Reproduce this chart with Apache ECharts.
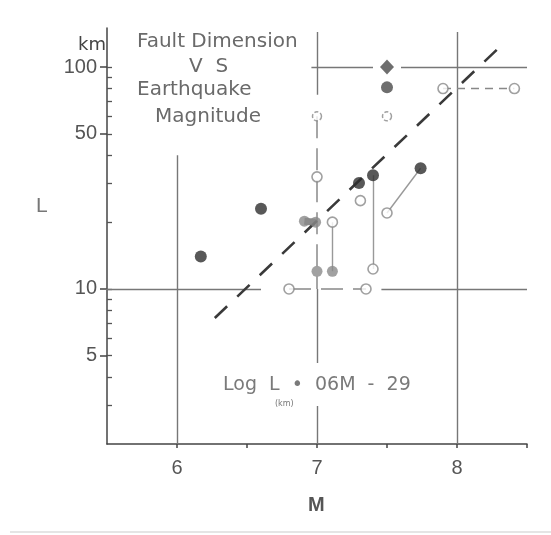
<!DOCTYPE html>
<html><head><meta charset="utf-8">
<script src="https://cdn.jsdelivr.net/npm/echarts@6/dist/echarts.min.js"></script>
<style>html,body{margin:0;padding:0;background:#fff}#c{width:551px;height:535px}</style>
</head><body><div id="c"></div>
<script>
// ---- axis ticks / labels ----
const xLabels = [6, 7, 8];
const xTickValues = [6, 6.5, 7, 7.5, 8, 8.5];
const yLabels = [5, 10, 50, 100];
const yMinorTicks = [3, 4, 5, 6, 7, 8, 9, 10, 20, 30, 40, 50, 60, 70, 80, 90, 100];

// ---- data (M = magnitude, L = fault length km) ----
const darkM = [6.17, 6.60, 7.30, 7.40, 7.74];
const darkL = [14, 23, 30, 32.5, 35];
const diamondM = [7.5];
const diamondL = [100];
const dropM = [7.5];
const dropL = [81];
const greyM = [6.91, 6.99, 7.00, 7.11];
const greyL = [20.2, 20, 12, 12];
const openM = [7.90, 8.41, 7.00, 7.31, 7.50, 7.11, 7.40, 7.35, 6.80];
const openL = [80, 80, 32, 25, 22, 20, 12.3, 10, 10];
const smallOpenM = [7.0, 7.5];
const smallOpenL = [60, 60];
const fitM = [6.27, 8.35];
const fitL = [7.4, 131];

// connectors between related estimates
const solidLinks = [[[7.11, 20], [7.11, 12]], [[7.40, 32.5], [7.40, 12.3]], [[7.74, 35], [7.50, 22]]];
const dashedLinks = [[[7.00, 60], [7.00, 10]], [[6.80, 10], [7.35, 10]]];
const shortDashLinks = [[[7.90, 80], [8.41, 80]]];
const thickLinks = [[[6.91, 20.2], [6.99, 20]]];
// frame (reference) lines
const frameSegments = [
  [[5.46, 10], [6.6, 10]], [[7.46, 10], [8.5, 10]],
  [[6.96, 100], [7.40, 100]], [[7.60, 100], [8.5, 100]],
  [[6, 2], [6, 40]],
  [[7, 2], [7, 2.97]], [[7, 4.64], [7, 10]], [[7, 75], [7, 144]],
  [[8, 2], [8, 144]]
];

const zip = (a, b) => a.map((v, i) => [v, b[i]]);
const toLines = segs => segs.map(s => ({ coords: s }));
const FONT = '"Liberation Sans", Arial, sans-serif';
const DJ = '"DejaVu Sans", sans-serif';

const txt = (x, y, text, font, fill) => ({
  type: 'text', x: x, y: y,
  style: { text: text, font: font, fill: fill, align: 'left', verticalAlign: 'middle' }
});

const chart = echarts.init(document.getElementById('c'), null, { renderer: 'canvas' });
chart.setOption({
  backgroundColor: '#fff',
  animation: false,
  grid: { left: 107, top: 28, width: 420, height: 416 },
  xAxis: [{
    type: 'value', min: 5.5, max: 8.5,
    axisLine: { lineStyle: { color: '#444', width: 1.5 } },
    axisTick: { show: true, customValues: xTickValues, length: 4, lineStyle: { color: '#444', width: 1.5 } },
    axisLabel: { customValues: xLabels, margin: 14, fontSize: 20, color: '#555', fontFamily: FONT },
    splitLine: { show: false }
  }],
  yAxis: [{
    type: 'log', logBase: 10, min: 2, max: 150,
    axisLine: { lineStyle: { color: '#444', width: 1.5 } },
    axisTick: { show: true, customValues: yLabels, length: 7, lineStyle: { color: '#444', width: 1.5 } },
    axisLabel: { customValues: yLabels, margin: 10, fontSize: 20, color: '#555', fontFamily: FONT },
    splitLine: { show: false }
  }, {
    type: 'log', logBase: 10, min: 2, max: 150, position: 'left', offset: 0,
    axisLine: { show: false },
    axisTick: { show: true, inside: true, customValues: yMinorTicks, length: 5, lineStyle: { color: '#555', width: 1.3 } },
    axisLabel: { show: false },
    splitLine: { show: false }
  }],
  series: [
    { type: 'lines', coordinateSystem: 'cartesian2d', data: toLines(frameSegments), z: 1,
      lineStyle: { color: '#777', width: 1.4, opacity: 1 } },
    { type: 'lines', coordinateSystem: 'cartesian2d', data: toLines(dashedLinks), z: 1,
      lineStyle: { color: '#888', width: 1.5, type: [22, 10], opacity: 1 } },
    { type: 'lines', coordinateSystem: 'cartesian2d', data: toLines(shortDashLinks), z: 1,
      lineStyle: { color: '#888', width: 1.3, type: [8, 6], opacity: 1 } },
    { type: 'lines', coordinateSystem: 'cartesian2d', data: toLines(solidLinks), z: 1,
      lineStyle: { color: '#999', width: 1.4, opacity: 1 } },
    { type: 'lines', coordinateSystem: 'cartesian2d', data: toLines(thickLinks), z: 1,
      lineStyle: { color: '#8a8a8a', width: 7, opacity: 1 } },
    { type: 'line', data: zip(fitM, fitL), symbol: 'none', z: 2,
      lineStyle: { color: '#3a3a3a', width: 2.6, type: [17, 14] } },
    { type: 'scatter', data: zip(openM, openL), symbol: 'circle', symbolSize: 10, z: 3,
      itemStyle: { color: '#fff', borderColor: '#888', borderWidth: 1.6 } },
    { type: 'scatter', data: zip(smallOpenM, smallOpenL), symbol: 'circle', symbolSize: 9, z: 3,
      itemStyle: { color: '#fff', borderColor: '#888', borderWidth: 1.5, borderType: [4, 2] } },
    { type: 'scatter', data: zip(greyM, greyL), symbol: 'circle', symbolSize: 11, z: 3,
      itemStyle: { color: '#8a8a8a' } },
    { type: 'scatter', data: zip(darkM, darkL), symbol: 'circle', symbolSize: 12, z: 4,
      itemStyle: { color: '#2e2e2e' } },
    { type: 'scatter', data: zip(diamondM, diamondL), symbol: 'diamond', symbolSize: [14, 15], z: 4,
      itemStyle: { color: '#4a4a4a' } },
    { type: 'scatter', data: zip(dropM, dropL), symbol: 'circle', symbolSize: 12, z: 4,
      itemStyle: { color: '#4a4a4a' } }
  ],
  graphic: [
    txt(78, 45, 'km', '18px ' + DJ, '#444'),
    txt(137, 42, 'Fault Dimension', '20px ' + DJ, '#6a6a6a'),
    txt(189, 67, 'V  S', '20px ' + DJ, '#6a6a6a'),
    txt(137, 90, 'Earthquake', '20px ' + DJ, '#6a6a6a'),
    txt(155, 117, 'Magnitude', '20px ' + DJ, '#6a6a6a'),
    txt(223, 385, 'Log  L  •  06M  -  29', '19px ' + DJ, '#7a7a7a'),
    txt(275, 404, '(km)', '8px ' + DJ, '#777'),
    txt(36, 206, 'L', '21px ' + FONT, '#777'),
    txt(308, 505, 'M', 'bold 20px ' + FONT, '#555'),
    { type: 'line', shape: { x1: 10, y1: 532, x2: 551, y2: 532 }, style: { stroke: '#ddd', lineWidth: 1.5 } }
  ]
});
</script></body></html>
